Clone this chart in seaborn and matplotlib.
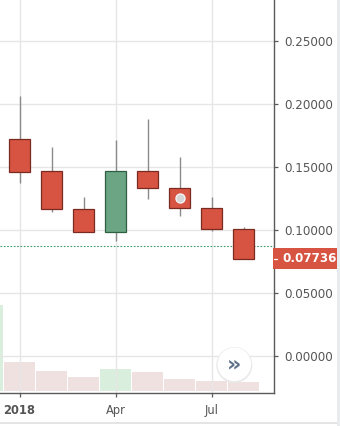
import matplotlib
matplotlib.use("Agg")
import matplotlib.pyplot as plt
from matplotlib.patches import Rectangle, Circle
from matplotlib.transforms import blended_transform_factory
import seaborn as sns
import pandas as pd

# ---- data ----
candle_months = ["Jan", "Feb", "Mar", "Apr", "May", "Jun", "Jul", "Aug"]
candle_pos = [1, 2, 3, 4, 5, 6, 7, 8]
open_ = [0.1722, 0.1466, 0.1167, 0.0987, 0.1466, 0.1336, 0.1177, 0.1008]
high = [0.2063, 0.1656, 0.1259, 0.1714, 0.1884, 0.1577, 0.1259, 0.1021]
low = [0.1370, 0.1143, 0.0985, 0.0915, 0.1243, 0.1113, 0.0995, 0.0774]
close = [0.1463, 0.1167, 0.0987, 0.1466, 0.1336, 0.1177, 0.1008, 0.07736]

vol_months = ["Dec", "Jan", "Feb", "Mar", "Apr", "May", "Jun", "Jul", "Aug"]
vol_pos = [0, 1, 2, 3, 4, 5, 6, 7, 8]
volume = [86.0, 29.0, 20.0, 13.7, 21.4, 18.7, 11.4, 10.0, 8.7]
vol_dir = ["up", "down", "down", "down", "up", "down", "down", "down", "down"]

ref_line = 0.0873
event_pos = 6
event_value = 0.1251
last_price = 0.07736

yticks = [0.0, 0.05, 0.10, 0.15, 0.20, 0.25]
ytick_labels = ["0.00000", "0.05000", "0.10000", "0.15000", "0.20000", "0.25000"]
xticks = [1, 4, 7]
xtick_labels = ["2018", "Apr", "Jul"]

# ---- style ----
sns.set_style("white")
plt.rcParams["font.family"] = ["DejaVu Sans"]

UP = "#6ba583"
UP_EDGE = "#2f5e40"
DOWN = "#d75442"
DOWN_EDGE = "#7a2a20"
WICK = "#8a8a8a"
TXT = "#555555"
AXC = "#5a5a5a"

W, H = 340, 426
fig = plt.figure(figsize=(W / 100, H / 100), dpi=100)
fig.patch.set_facecolor("white")
ax = fig.add_axes([0, (H - 393) / H, 274 / W, 393 / H])
axv = ax.twinx()

# volume (behind)
vdf = pd.DataFrame({"pos": vol_pos, "vol": volume, "dir": vol_dir})
sns.barplot(data=vdf, x="pos", y="vol", hue="dir", ax=axv,
            palette={"up": "#d9eedd", "down": "#f0e1e1"},
            native_scale=True, dodge=False, width=0.97, legend=False,
            linewidth=0, saturation=1)
axv.set_ylim(-2.3, 390.7)
axv.set_yticks([])
axv.set_ylabel("")
axv.set_xlabel("")
for s in axv.spines.values():
    s.set_visible(False)

ax.set_zorder(axv.get_zorder() + 1)
ax.patch.set_visible(False)

# candles
cdf = pd.DataFrame({"pos": candle_pos, "open": open_, "high": high,
                    "low": low, "close": close})
ax.vlines(cdf["pos"], cdf["low"], cdf["high"], color=WICK, lw=1.0, zorder=3)
for _, r in cdf.iterrows():
    up = r["close"] >= r["open"]
    bottom = min(r["open"], r["close"])
    height = abs(r["close"] - r["open"])
    ax.bar(r["pos"], height, bottom=bottom, width=0.64,
           color=UP if up else DOWN, edgecolor=UP_EDGE if up else DOWN_EDGE,
           linewidth=0.9, zorder=4)

# event marker
ax.plot([event_pos], [event_value], "o", ms=6.5, mfc="#d6d6d6",
        mec="#f2f2f2", mew=1.0, zorder=5)

# reference dotted line
ax.axhline(ref_line, color="#3f9a66", lw=0.8, ls=(0, (1.5, 1.5)), zorder=2)

ax.set_xlim(0.39, 8.95)
ax.set_ylim(-0.02937, 0.28254)

ax.yaxis.tick_right()
ax.set_yticks(yticks)
ax.set_yticklabels(ytick_labels)
ax.set_xticks(xticks)
ax.set_xticklabels(xtick_labels)
ax.grid(True, color="#e6e6e6", lw=1.0, zorder=0)
ax.set_axisbelow(True)

ax.tick_params(axis="y", which="both", right=True, left=False, length=3,
               width=0.9, color=AXC, labelcolor=TXT, labelsize=8.6, pad=4.5)
ax.tick_params(axis="x", which="both", bottom=True, length=3, width=0.9,
               color=AXC, labelcolor=TXT, labelsize=8.3, pad=5)
ax.get_xticklabels()[0].set_fontweight("bold")

for side in ["left", "top"]:
    ax.spines[side].set_visible(False)
for side in ["right", "bottom"]:
    ax.spines[side].set_visible(True)
    ax.spines[side].set_color(AXC)
    ax.spines[side].set_linewidth(1.0)

# last price label
bt = blended_transform_factory(ax.transAxes, ax.transData)
dpp = 0.31191 / 393  # data units per pixel
ax.add_patch(Rectangle((273 / 274, last_price - 10.5 * dpp),
                       64 / 274, 21 * dpp, transform=bt,
                       facecolor=DOWN, edgecolor="none", clip_on=False,
                       zorder=10))
ax.plot([1.0, 1.012], [last_price, last_price], transform=bt, color="white",
        lw=0.9, clip_on=False, zorder=11)
ax.text(282 / 274, last_price, f"{last_price:.5f}", transform=bt,
        ha="left", va="center", color="white", fontweight="bold",
        fontsize=8.6, clip_on=False, zorder=12)

# scroll button
cx, cy = 234.3 / W, (H - 364.3) / H
fig.patches.append(Circle((cx * W, (H - 365.0)), 18.0, transform=None,
                          facecolor="#e9e9e9", edgecolor="none", zorder=20))
fig.patches.append(Circle((cx * W, (H - 364.3)), 16.8, transform=None,
                          facecolor="white", edgecolor="none", zorder=21))
fig.text(cx, cy, "\u00bb", ha="center", va="center", color="#5d7189",
         fontsize=16, fontweight="bold", zorder=22)

# frame strips
fig.patches.append(Rectangle((337 / W, 0), 3 / W, 1, transform=fig.transFigure,
                             facecolor="#e9ecef", edgecolor="none"))
fig.patches.append(Rectangle((0, (H - 423.5) / H), 337 / W, 1.2 / H,
                             transform=fig.transFigure,
                             facecolor="#e4e4e4", edgecolor="none"))

fig.savefig("out.png", dpi=100, facecolor="white")
